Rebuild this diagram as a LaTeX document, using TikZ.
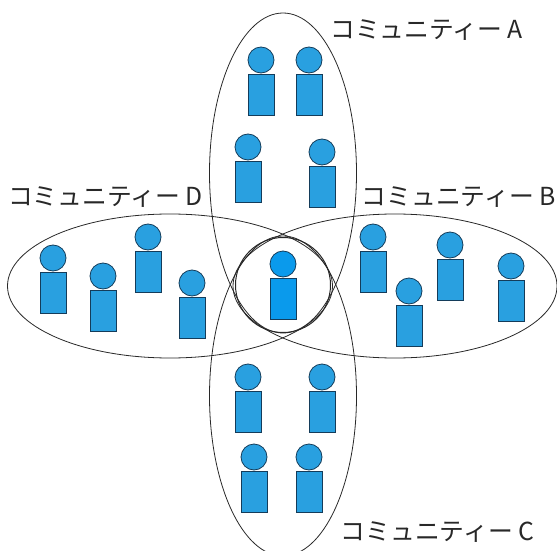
\documentclass[tikz,border=0pt]{standalone}
\usepackage{xcolor}
\usepackage{fontspec}
\newfontfamily\jpfont{Noto Sans CJK JP}
\usetikzlibrary{shapes.geometric, positioning}
\definecolor{personfill}{RGB}{41,160,224}
\definecolor{corefill}{RGB}{10,154,236}
\definecolor{lineink}{RGB}{40,40,40}
\definecolor{borderink}{RGB}{20,60,90}

\begin{document}
\begin{tikzpicture}[
  x=1pt, y=-1pt,
  community/.style={ellipse, draw=lineink, line width=0.8pt, inner sep=0pt},
  head/.style={circle, draw=borderink, fill=personfill, line width=0.8pt, inner sep=0pt, minimum size=26pt},
  body/.style={rectangle, draw=borderink, fill=personfill, line width=0.8pt, inner sep=0pt, minimum width=26pt, minimum height=41pt},
  label/.style={inner sep=0pt, text=lineink, font=\jpfont\fontsize{24.8}{25}\selectfont},
]
\useasboundingbox (0,0) rectangle (557,551);
% communities
\node[community, minimum width=147pt, minimum height=320pt] (commA) at (283,173) {};
\node[community, minimum width=324pt, minimum height=144pt] (commB) at (395,286) {};
\node[community, minimum width=147pt, minimum height=320pt] (commC) at (283,396) {};
\node[community, minimum width=325pt, minimum height=144pt] (commD) at (170,286) {};
\node[circle, draw=lineink, line width=1pt, inner sep=0pt, minimum size=95pt] (core) at (283,285) {};
% members
\foreach \n/\x/\y in {a1/261/60, a2/309/60, a3/248/147, a4/322/152,
                      b1/373/237, b2/450/245, b3/409/291, b4/511/266,
                      c1/248/377, c2/322/377, c3/254/457, c4/309/457,
                      d1/53/258, d2/103/276, d3/148/237, d4/192/283} {
  \node[head] (h\n) at (\x,\y) {};
  \node[body, below=0.5pt of h\n] (b\n) {};
}
\node[head, fill=corefill] (hcore) at (283,264) {};
\node[body, fill=corefill, below=0.5pt of hcore] (bcore) {};
% labels
\node[label, anchor=west] (labelA) at (330,30) {コミュニティー A};
\node[label, anchor=west] (labelB) at (361.5,197) {コミュニティー B};
\node[label, anchor=west] (labelC) at (340.5,532) {コミュニティー C};
\node[label, anchor=west] (labelD) at (8,197) {コミュニティー D};
\end{tikzpicture}
\end{document}
